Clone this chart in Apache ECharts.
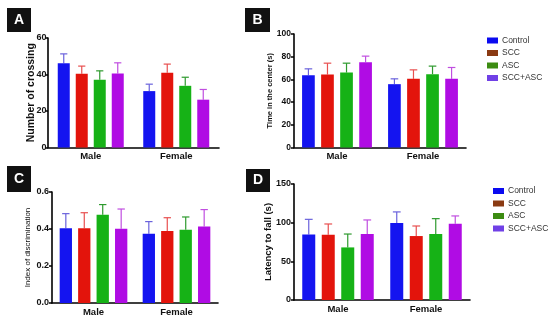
<!DOCTYPE html>
<html><head><meta charset="utf-8">
<script src="https://cdn.jsdelivr.net/npm/echarts@6/dist/echarts.min.js"></script>
<style>html,body{margin:0;padding:0;background:#fff}#c{width:550px;height:320px}</style>
</head><body><div id="c"></div>
<script>
// ---- data ----
const categories = ['Male', 'Female'];
const groups = ['Control', 'SCC', 'ASC', 'SCC+ASC'];

// Panel A: Number of crossing (mean per group: [Male, Female])
const crossingMean = [[46.2, 30.9], [40.4, 40.9], [37.1, 33.8], [40.6, 26.2]];
const crossingErr  = [[5.1, 3.8], [4.2, 4.8], [4.9, 4.7], [5.8, 5.6]];
const crossingTicks = [0, 20, 40, 60];

// Panel B: Time in the center (s)
const centerMean = [[63.7, 55.8], [64.3, 60.5], [66.0, 64.6], [75.2, 60.5]];
const centerErr  = [[5.6, 4.7], [10.0, 7.9], [8.3, 7.1], [5.3, 10.0]];
const centerTicks = [0, 20, 40, 60, 80, 100];

// Panel C: Index of discrimination
const discMean = [[0.404, 0.375], [0.404, 0.389], [0.477, 0.396], [0.402, 0.413]];
const discErr  = [[0.079, 0.065], [0.084, 0.072], [0.055, 0.069], [0.106, 0.092]];
const discTicks = [0.0, 0.2, 0.4, 0.6];

// Panel D: Latency to fall (s)
const latencyMean = [[84.8, 99.6], [84.4, 82.7], [68.0, 85.3], [85.3, 98.7]];
const latencyErr  = [[19.5, 14.3], [13.9, 13.0], [17.3, 19.9], [18.2, 10.0]];
const latencyTicks = [0, 50, 100, 150];

// ---- styles ----
const FONT = 'Liberation Sans, Arial, sans-serif';
const barColors = ['#1414f0', '#e3140c', '#16b216', '#b00ce4'];
const legendColors = ['#0a0af0', '#8a3a12', '#3c8c12', '#7040e6'];
const errColors = ['#6a62dc', '#e85050', '#2e9a2e', '#c04ee0'];

const panels = [
  {mean: crossingMean, err: crossingErr, ticks: crossingTicks, name: 'Number of crossing', grid: {left: 48, top: 38, width: 171, height: 109.5}, bw: 12, nameSize: 10.5, nameBold: 'bold', nameGap: 11, labelSize: 9, labelMargin: 1.5, dec: 0},
  {mean: centerMean, err: centerErr, ticks: centerTicks, name: 'Time in the center (s)', grid: {left: 294, top: 34, width: 172, height: 113.5}, bw: 12.7, nameSize: 7.5, nameBold: 'bold', nameGap: 20, labelSize: 8.5, labelMargin: 3, dec: 0},
  {mean: discMean, err: discErr, ticks: discTicks, name: 'Index of discrimination', grid: {left: 52, top: 192, width: 166, height: 111}, bw: 12.3, nameSize: 8, nameBold: 'normal', nameGap: 20, labelSize: 9, labelMargin: 3, dec: 1},
  {mean: latencyMean, err: latencyErr, ticks: latencyTicks, name: 'Latency to fall (s)', grid: {left: 294, top: 184, width: 176, height: 116}, bw: 13, nameSize: 9.5, nameBold: 'bold', nameGap: 21, labelSize: 9, labelMargin: 3, dec: 0}
];

const grid = [], xAxis = [], yAxis = [], series = [];
panels.forEach((p, k) => {
  grid.push(p.grid);
  xAxis.push({
    type: 'category', gridIndex: k, data: categories,
    axisLine: {lineStyle: {color: '#000', width: 1.6}},
    axisTick: {alignWithLabel: true, length: 3, lineStyle: {color: '#000', width: 1.5}},
    axisLabel: {color: '#111', fontWeight: 'bold', fontSize: 9.5, fontFamily: FONT, margin: 4}
  });
  const tk = p.ticks;
  yAxis.push({
    type: 'value', gridIndex: k, min: tk[0], max: tk[tk.length - 1], interval: tk[1] - tk[0],
    name: p.name, nameLocation: 'middle', nameRotate: 90, nameGap: p.nameGap, nameMoveOverlap: false,
    nameTextStyle: {color: '#111', fontWeight: p.nameBold, fontSize: p.nameSize, fontFamily: FONT},
    splitLine: {show: false},
    axisLine: {show: true, lineStyle: {color: '#000', width: 1.6}},
    axisTick: {show: true, length: 3, lineStyle: {color: '#000', width: 1.5}},
    axisLabel: {color: '#111', fontWeight: 'bold', fontSize: p.labelSize, fontFamily: FONT, margin: p.labelMargin,
      formatter: v => v.toFixed(p.dec)}
  });
  groups.forEach((g, i) => {
    series.push({
      name: g, type: 'bar', xAxisIndex: k, yAxisIndex: k, barWidth: p.bw, barGap: '50%',
      itemStyle: {color: barColors[i]}, data: p.mean[i], silent: true, animation: false
    });
    const off = (i - 1.5) * 1.5 * p.bw;
    series.push({
      name: g + ' err', type: 'custom', xAxisIndex: k, yAxisIndex: k, animation: false, silent: true,
      data: p.mean[i].map((m, c) => [c, m, m + p.err[i][c]]),
      renderItem: (params, api) => {
        const lo = api.coord([api.value(0), api.value(1)]);
        const hi = api.coord([api.value(0), api.value(2)]);
        const x = lo[0] + off, cap = p.bw * 0.3;
        const st = {stroke: errColors[i], lineWidth: 1.2};
        return {type: 'group', children: [
          {type: 'line', shape: {x1: x, y1: lo[1], x2: x, y2: hi[1]}, style: st},
          {type: 'line', shape: {x1: x - cap, y1: hi[1], x2: x + cap, y2: hi[1]}, style: st}
        ]};
      }
    });
  });
});

function legendData() {
  return groups.map((g, i) => ({name: g, itemStyle: {color: legendColors[i]}}));
}
const legendBase = {
  orient: 'vertical', icon: 'rect', itemWidth: 11, itemHeight: 6, itemGap: 1.5, padding: 0,
  textStyle: {color: '#333', fontSize: 8.5, fontFamily: FONT, lineHeight: 11, padding: [0, 0, 0, -1]},
  selectedMode: false
};

function box(x, y, w, h, t) {
  return [
    {type: 'rect', left: x, top: y, shape: {width: w, height: h}, style: {fill: '#111'}},
    {type: 'text', x: x + w / 2, y: y + h / 2, style: {text: t, fill: '#fff', font: 'bold 14px ' + FONT, textAlign: 'center', textVerticalAlign: 'middle'}}
  ];
}

const chart = echarts.init(document.getElementById('c'), null, {renderer: 'canvas'});
chart.setOption({
  animation: false,
  backgroundColor: '#fff',
  grid, xAxis, yAxis, series,
  legend: [
    Object.assign({}, legendBase, {left: 487, top: 35, data: legendData()}),
    Object.assign({}, legendBase, {left: 493, top: 185.5, data: legendData()})
  ],
  graphic: [].concat(box(7, 8, 24, 24, 'A'), box(245, 8, 25, 24, 'B'), box(7, 166, 24, 26, 'C'), box(246, 169, 24, 23, 'D'))
});
</script></body></html>
